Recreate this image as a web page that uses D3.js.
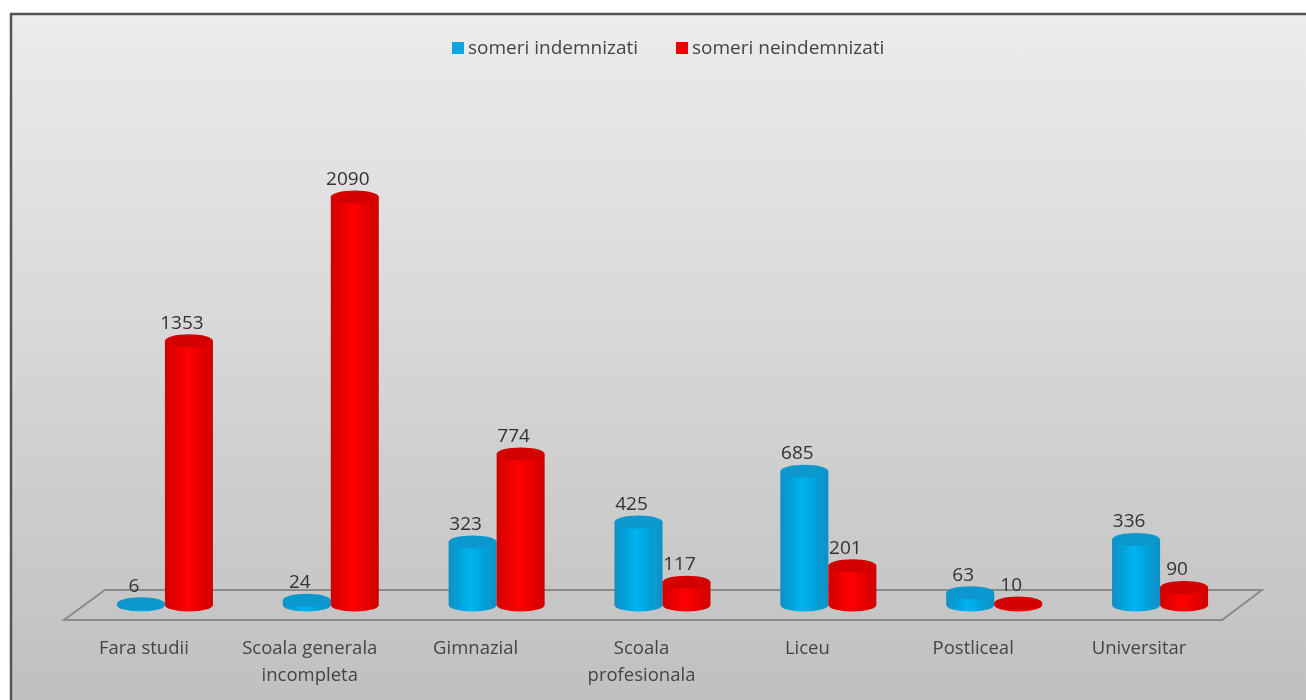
<!DOCTYPE html>
<html>
<head>
<meta charset="utf-8">
<script src="https://cdn.jsdelivr.net/npm/d3@7"></script>
<style>
html, body { margin: 0; padding: 0; background: #fff; }
svg { display: block; }
</style>
</head>
<body>
<div id="chart"></div>
<script>
var categories = [["Fara studii"], ["Scoala generala", "incompleta"], ["Gimnazial"], ["Scoala", "profesionala"], ["Liceu"], ["Postliceal"], ["Universitar"]];
var seriesNames = ["someri indemnizati", "someri neindemnizati"];
var indemnizati = [6, 24, 323, 425, 685, 63, 336];
var neindemnizati = [1353, 2090, 774, 117, 201, 10, 90];

var width = 1306, height = 700;
var rx = 24, ry = 6.5;
var baseY = 605;

var svg = d3.select("#chart").append("svg")
    .attr("width", width)
    .attr("height", height);

var defs = svg.append("defs");

var bg = defs.append("linearGradient").attr("id", "bg").attr("x1", 0).attr("y1", 0).attr("x2", 0).attr("y2", 1);
bg.append("stop").attr("offset", "0%").attr("stop-color", "#ececec");
bg.append("stop").attr("offset", "100%").attr("stop-color", "#bfbfbf");

// the reference is a soft jpeg, a small blur gets closer to it
defs.append("filter").attr("id", "soft")
    .append("feGaussianBlur").attr("stdDeviation", 0.55);

// shading across the cylinders, dark on the edges
function cylGradient(id, edge, mid) {
    var g = defs.append("linearGradient").attr("id", id);
    g.append("stop").attr("offset", "0%").attr("stop-color", edge);
    g.append("stop").attr("offset", "45%").attr("stop-color", mid);
    g.append("stop").attr("offset", "100%").attr("stop-color", edge);
}
cylGradient("blueSide", "#0a8fc4", "#00b4f0");
cylGradient("redSide", "#d00000", "#ff0000");

var topColors = ["#0b97cf", "#d40000"];
var sideFills = ["url(#blueSide)", "url(#redSide)"];
var legendColors = ["#10a5de", "#ee0000"];

svg.append("rect")
    .attr("x", 11).attr("y", 14)
    .attr("width", 1300).attr("height", 700)
    .attr("fill", "url(#bg)")
    .attr("stroke", "#555")
    .attr("stroke-width", 2.5);

var plot = svg.append("g").attr("filter", "url(#soft)");

// floor of the 3d plot
var floorLine = d3.line();
plot.append("path")
    .attr("d", floorLine([[105, 590], [1262, 590], [1222, 620], [64, 620]]) + "Z")
    .attr("fill", "none")
    .attr("stroke", "#8a8a8a")
    .attr("stroke-width", 2);

var x = d3.scaleBand()
    .domain(d3.range(categories.length))
    .range([82, 1243]);

var y = d3.scaleLinear()
    .domain([0, 2090])
    .range([baseY, 197]);

var data = [];
categories.forEach(function (c, i) {
    data.push({ i: i, s: 0, value: indemnizati[i] });
    data.push({ i: i, s: 1, value: neindemnizati[i] });
});

function cx(d) {
    return x(d.i) + x.bandwidth() / 2 + (d.s === 0 ? -24 : 24);
}

var bars = plot.selectAll(".bar")
    .data(data)
    .enter()
    .append("g")
    .attr("class", "bar");

bars.append("path")
    .attr("d", function (d) {
        var c = cx(d), t = y(d.value);
        return "M" + (c - rx) + "," + t +
            "V" + baseY +
            "A" + rx + "," + ry + " 0 0 0 " + (c + rx) + "," + baseY +
            "V" + t + "Z";
    })
    .attr("fill", function (d) { return sideFills[d.s]; });

bars.append("ellipse")
    .attr("cx", cx)
    .attr("cy", function (d) { return y(d.value); })
    .attr("rx", rx)
    .attr("ry", ry)
    .attr("fill", function (d) { return topColors[d.s]; });

bars.append("text")
    .attr("x", function (d) { return cx(d) - 7; })
    .attr("y", function (d) { return y(d.value) - 12; })
    .attr("text-anchor", "middle")
    .attr("font-family", "Open Sans, sans-serif")
    .attr("font-size", 19)
    .attr("fill", "#333")
    .text(function (d) { return d.value; });

// category labels sit left of the bars because of the 3d shift
var labels = plot.selectAll(".cat")
    .data(categories)
    .enter()
    .append("text")
    .attr("class", "cat")
    .attr("text-anchor", "middle")
    .attr("font-family", "Open Sans, sans-serif")
    .attr("font-size", 18.5)
    .attr("fill", "#444");

labels.each(function (lines, i) {
    d3.select(this).selectAll("tspan")
        .data(lines)
        .enter()
        .append("tspan")
        .attr("x", x(i) + x.bandwidth() / 2 - 21)
        .attr("y", function (l, j) { return 654 + j * 27; })
        .text(function (l) { return l; });
});

// legend
var legendX = [452, 676];
var legend = plot.selectAll(".legend")
    .data(seriesNames)
    .enter()
    .append("g")
    .attr("class", "legend")
    .attr("transform", function (d, i) { return "translate(" + legendX[i] + ",48)"; });

legend.append("rect")
    .attr("x", 0).attr("y", -6)
    .attr("width", 12).attr("height", 12)
    .attr("fill", function (d, i) { return legendColors[i]; });

legend.append("text")
    .attr("x", 16).attr("y", 6)
    .attr("font-family", "Open Sans, sans-serif")
    .attr("font-size", 19)
    .attr("fill", "#444")
    .text(function (d) { return d; });
</script>
</body>
</html>
